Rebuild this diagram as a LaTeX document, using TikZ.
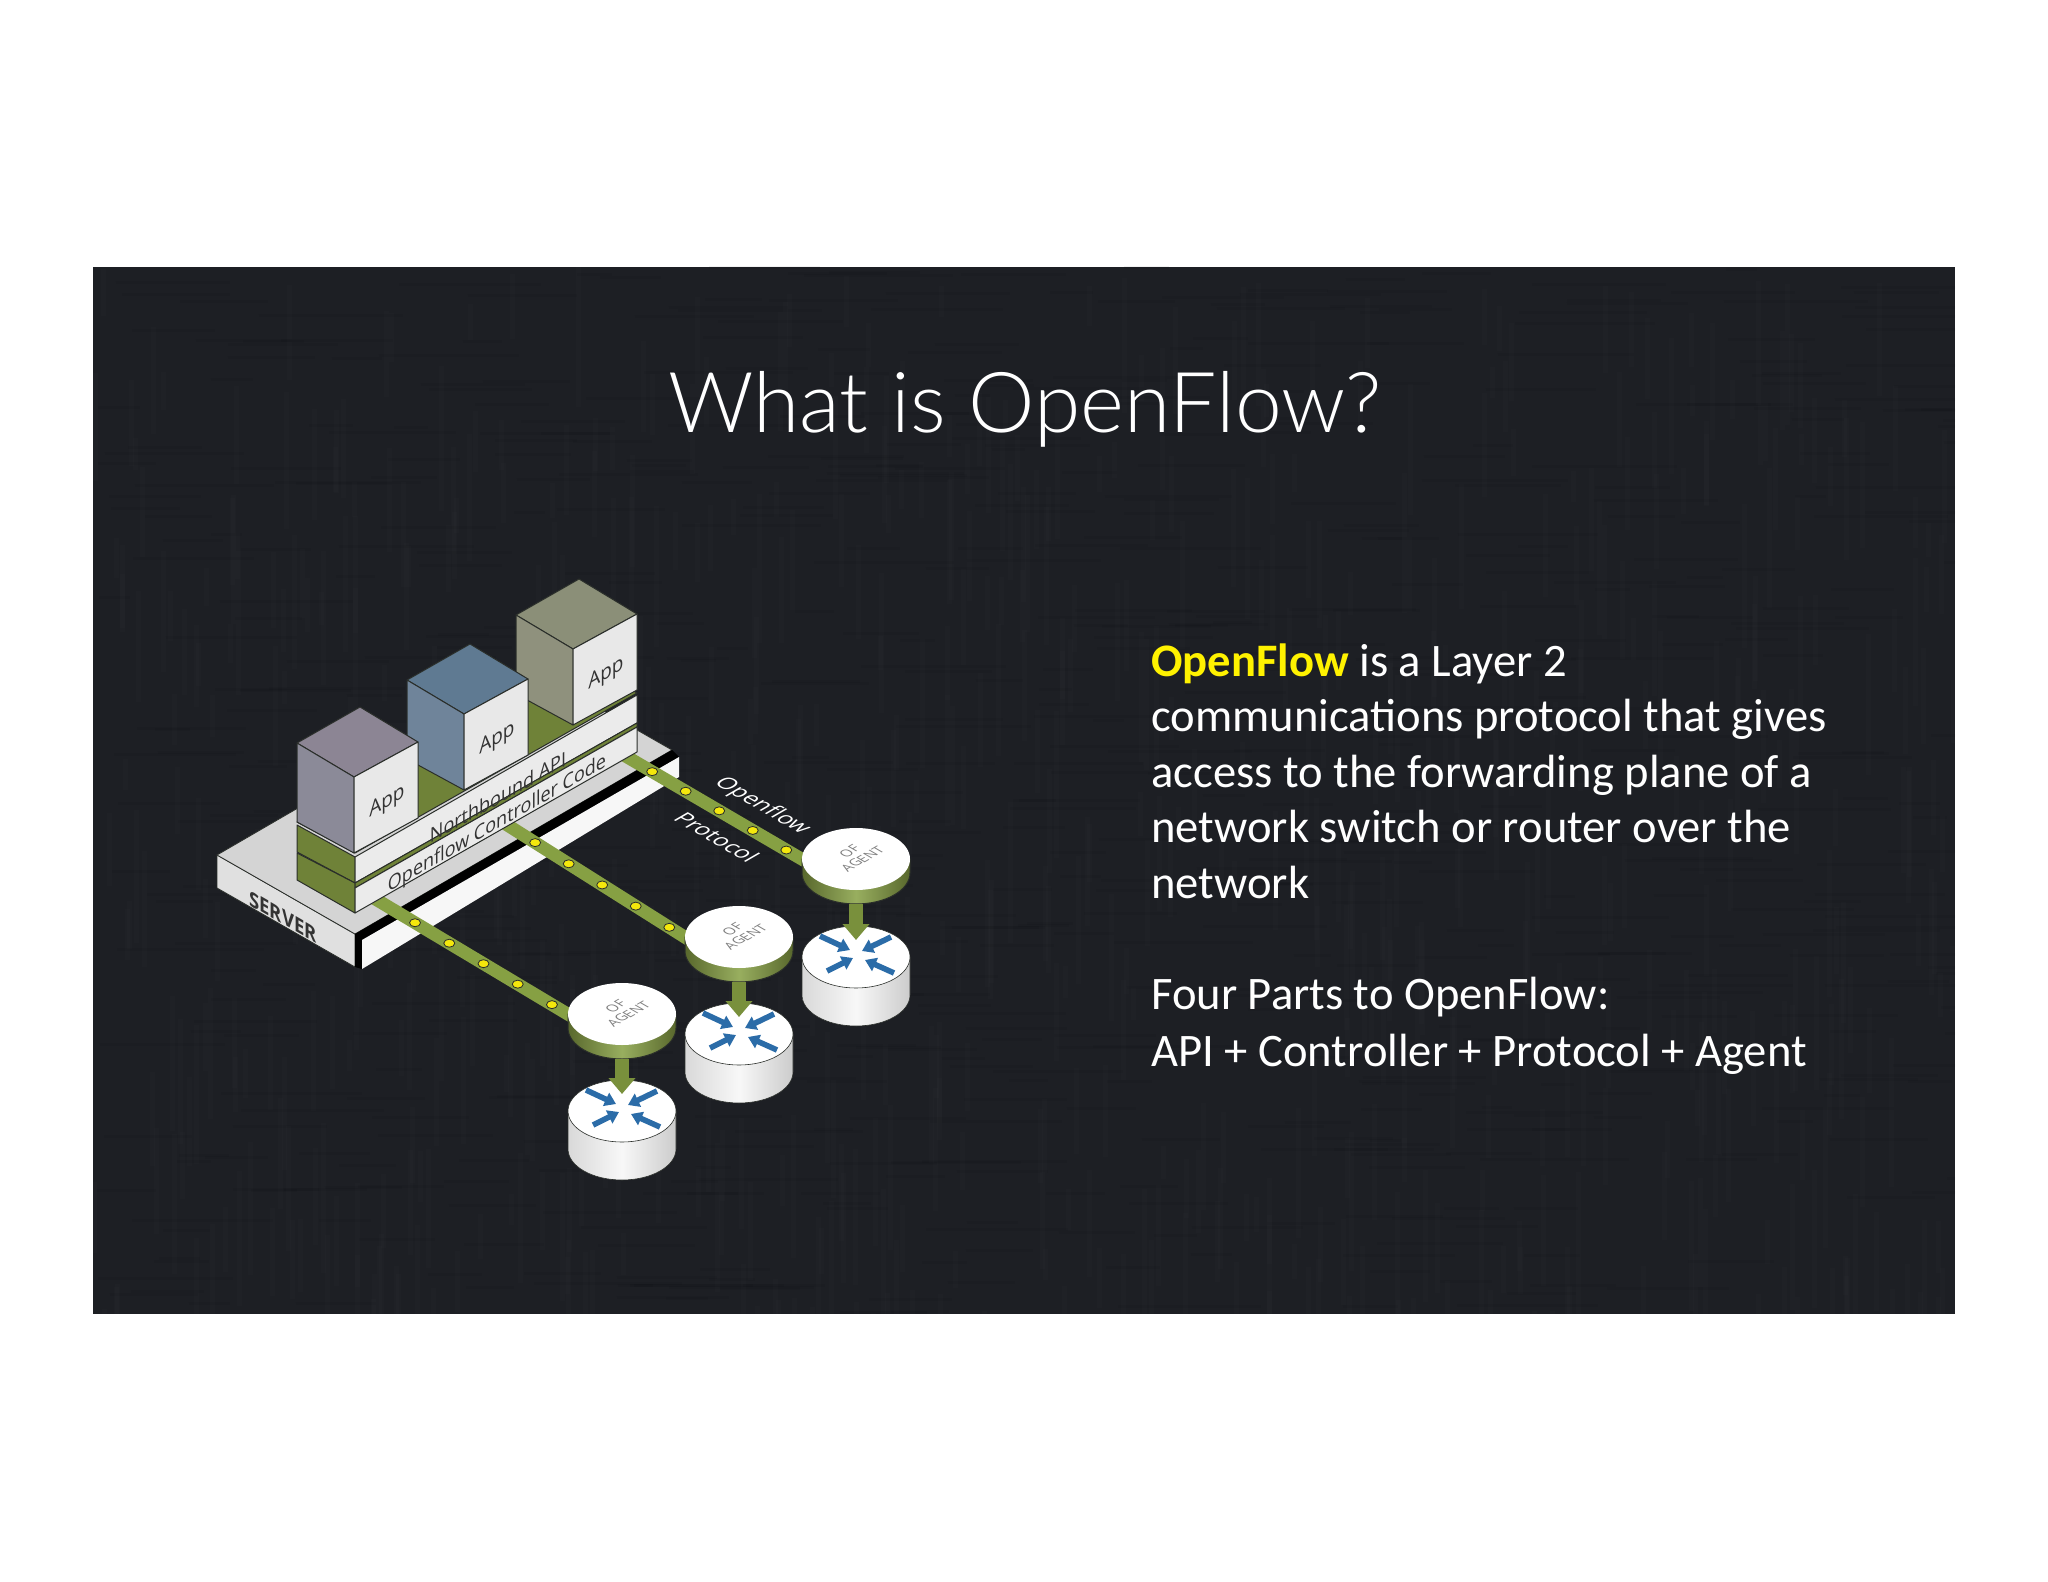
\documentclass[tikz,border=0pt]{standalone}
\usepackage{fontspec}
\setmainfont[Ligatures=Common]{Carlito}
\newfontfamily\titlefont[UprightFont=* Light]{Lato}
\newfontfamily\labelfont{Open Sans}
\usetikzlibrary{shapes.geometric,arrows.meta,calc}
\definecolor{slidebg}{HTML}{1D1F24}
\definecolor{leaf}{HTML}{6F8238}
\definecolor{stripgreen}{HTML}{86A043}
\definecolor{routerblue}{HTML}{2B6CA8}
\definecolor{edge}{HTML}{2A2E2A}
\pgfdeclarelayer{base}
\pgfdeclarelayer{strip}
\pgfsetlayers{base,strip,main}
\tikzset{
  face/.style={draw=edge,line width=.5pt,line join=round},
  strippath/.style={line width=6.4pt,draw=stripgreen},
  flowdot/.style={fill=yellow!95!black,draw=edge,line width=.4pt},
  agenttop/.style={ellipse,fill=white,minimum width=54pt,minimum height=31pt,inner sep=0pt},
  routertop/.style={ellipse,fill=white,draw=edge,line width=.3pt,minimum width=54pt,minimum height=31pt,inner sep=0pt},
  oflabel/.style={font=\labelfont\fontsize{6.8}{7.6}\selectfont,text=gray,align=center,cm={.866,.5,-.866,.5,(0,0)}},
  rightface/.style={font=\labelfont\fontsize{10}{12}\selectfont,text=black!80,yslant=.577,xscale=.9},
  leftface/.style={font=\labelfont\bfseries\fontsize{10.5}{12}\selectfont,text=black!80,yslant=-.577,xscale=.88},
  blueout/.style={line width=2.8pt,draw=routerblue,-{Triangle[length=5.5pt,width=7pt]}},
  downarrow/.style={line width=7pt,draw=stripgreen!90!black,-{Triangle[length=8pt,width=13pt]}},
  groundtext/.style={font=\labelfont\fontsize{11.2}{13}\selectfont,text=white,cm={.866,-.5,.866,.5,(0,0)}}
}
\begin{document}
\begin{tikzpicture}[x=.5pt,y=-.5pt]
\useasboundingbox (0,0) rectangle (2048,1582);
\begin{pgfonlayer}{base}
\fill[white] (0,0) rectangle (2048,1582);
\fill[slidebg] (93,267) rectangle (1955,1314);
% cloth of the slide
\begin{scope}
\clip (93,267) rectangle (1955,1314);
\pgfmathsetseed{11}
\foreach \i in {1,...,700}{
  \pgfmathsetmacro\tx{93+rnd*1862}
  \pgfmathsetmacro\ty{267+rnd*1047}
  \pgfmathsetmacro\tl{30+rnd*120}
  \draw[white,opacity=.012,line width=2.5pt] (\tx,\ty) -- +(0,\tl);
  \pgfmathsetmacro\tx{93+rnd*1862}
  \pgfmathsetmacro\ty{267+rnd*1047}
  \draw[black,opacity=.05,line width=1.5pt] (\tx,\ty) -- +(\tl,0);
}
\end{scope}
% server plate
\fill[black!12,draw=edge,line width=.4pt] (217,855) -- (355,934) -- (355,967) -- (217,888) -- cycle;
\fill[black!17,draw=edge,line width=.4pt] (217,855) -- (355,934) -- (672,750) -- (534,671) -- cycle;
\fill[black] (355,934) -- (672,750) -- (679,757) -- (362,940) -- (362,969) -- (355,967) -- cycle;
\fill[black!3] (362,940) -- (679,757) -- (679,777) -- (362,969) -- cycle;
\end{pgfonlayer}
\node[leftface] (serverlbl) at (283,917) {SERVER};
% api and controller layers
\draw[face,fill=leaf] (297,822) -- (355,853) -- (637,693) -- (580,660) -- cycle;
\draw[face,fill=leaf] (297,825) -- (355,857) -- (355,883) -- (297,852) -- cycle;
\draw[face,fill=black!8] (355,857) -- (637,695) -- (637,723) -- (355,883) -- cycle;
\draw[face,fill=leaf] (297,853) -- (355,883) -- (355,913) -- (297,880) -- cycle;
\draw[face,fill=leaf] (355,883) -- (637,723) -- (637,727) -- (355,888) -- cycle;
\draw[face,fill=black!8] (355,888) -- (637,727) -- (637,752) -- (355,913) -- cycle;
\node[rightface] (apilbl) at (498,797) {Northbound API};
\node[rightface] (ctrllbl) at (497,824) {Openflow Controller Code};
% apps, back one first
\foreach \name/\x/\y/\topcol/\sidecol in {C/219/-128/8B8F78/8F917D,B/110/-63/5F7A92/6F849A,A/0/0/8C8594/8B8A98}{
  \definecolor{apptop}{HTML}{\topcol}
  \definecolor{appside}{HTML}{\sidecol}
  \begin{scope}[shift={(\x,\y)}]
  \draw[face,fill=apptop] (297,743) -- (360,707) -- (418,742) -- (354,777) -- cycle;
  \draw[face,fill=appside] (297,743) -- (354,777) -- (354,853) -- (297,822) -- cycle;
  \draw[face,fill=black!9] (354,777) -- (418,742) -- (418,818) -- (354,853) -- cycle;
  \node[rightface,font=\labelfont\fontsize{10.5}{12}\selectfont] (app\name) at (387,802) {App};
  \end{scope}
}
% agents with their routers
\foreach \name/\x/\y/\ry in {A/856/859/957,B/739/937/1034,C/622/1014/1111}{
  \draw[edge,line width=.5pt,left color=leaf!80!black,right color=leaf!80!black,middle color=stripgreen!85!white]
    (\x-54,\y) -- (\x-54,\y+14) arc [start angle=180,end angle=0,x radius=54,y radius=31] -- (\x+54,\y) -- cycle;
  \node[agenttop] (agent\name) at (\x,\y) {};
  \node[oflabel] (oftxt\name) at (\x,\y-4) {OF\\AGENT};
  \draw[edge,line width=.3pt,left color=black!15,right color=black!20,middle color=black!3]
    (\x-54,\ry) -- (\x-54,\ry+38) arc [start angle=180,end angle=0,x radius=54,y radius=31] -- (\x+54,\ry) -- cycle;
  \node[routertop] (router\name) at (\x,\ry) {};
  \begin{scope}[shift={(\x,\ry)}]
  \draw[blueout] (-36,-21) -- (-6,-7);
  \draw[blueout] (35,-20) -- (6,-6);
  \draw[blueout] (-29,14) -- (-3,1);
  \draw[blueout] (38,16) -- (9,3);
  \end{scope}
}
\foreach \name in {A,B,C}
  \draw[downarrow,shorten <=7pt,shorten >=8.5pt] (agent\name.south) -- (router\name.center);
% openflow strips, under the layers
\coordinate (ctrlA) at (610,747);
\coordinate (ctrlB) at (493,816);
\coordinate (ctrlC) at (372,897);
\begin{pgfonlayer}{strip}
\foreach \name in {A,B,C}{
  \draw[strippath,shorten >=-5pt] (ctrl\name) -- (agent\name.west);
  \foreach \p in {.22,.395,.57,.745,.92}
    \draw[flowdot] ($(ctrl\name)!\p!(agent\name.west)$) ellipse [x radius=5.5,y radius=4];
}
\end{pgfonlayer}
\node[groundtext] (flowlbl) at (762,806) {Openflow};
\node[groundtext] (protolbl) at (717,837) {Protocol};
% text of the slide
\node[font=\titlefont\fontsize{42}{50}\selectfont,text=white,anchor=base] (titletxt) at (1025,433) {What is OpenFlow?};
\node[font=\fontsize{23.3}{27.75}\selectfont,text=white,align=left,anchor=north west,inner sep=0pt] (bodytxt) at (1151,643)
  {\textcolor{yellow}{\textbf{OpenFlow}} is a Layer 2\\communications protocol that gives\\access to the forwarding plane of a\\network switch or router over the\\network};
\node[font=\fontsize{23.3}{28.6}\selectfont,text=white,align=left,anchor=north west,inner sep=0pt] (partstxt) at (1151,977)
  {Four Parts to OpenFlow:\\API + Controller + Protocol + Agent};
\end{tikzpicture}
\end{document}
